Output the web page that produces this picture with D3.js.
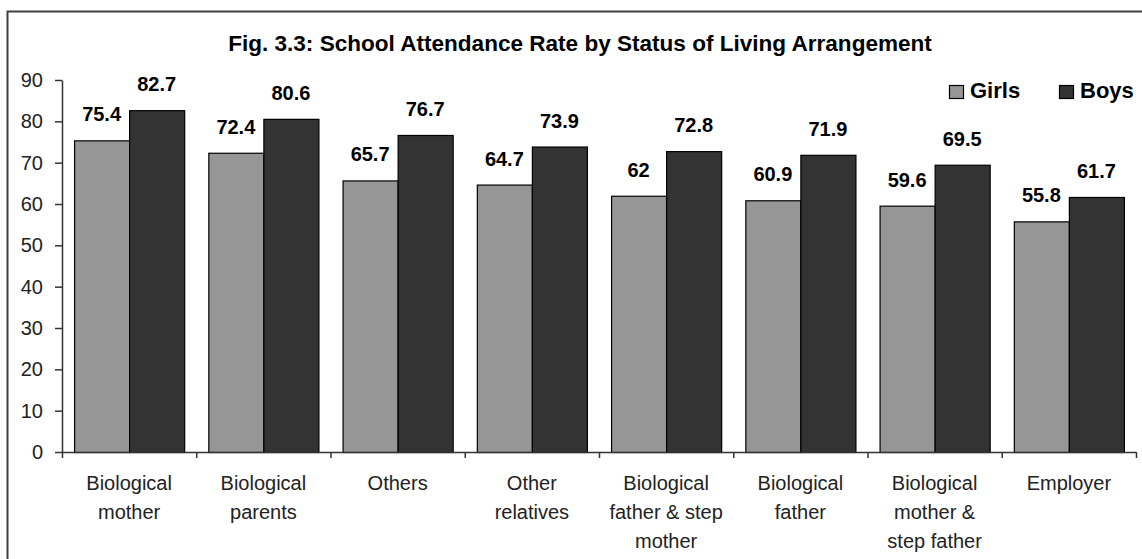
<!DOCTYPE html>
<html>
<head>
<meta charset="utf-8">
<script src="https://cdn.jsdelivr.net/npm/d3@7"></script>
<style>
  html, body { margin: 0; padding: 0; background: #fff; }
  svg { display: block; font-family: "Liberation Sans", Arial, sans-serif; }
</style>
</head>
<body>
<svg id="chart" width="1142" height="559"></svg>
<script>
// ---- data ----
const title = "Fig. 3.3: School Attendance Rate by Status of Living Arrangement";
const categories = [
  "Biological\nmother",
  "Biological\nparents",
  "Others",
  "Other\nrelatives",
  "Biological\nfather & step\nmother",
  "Biological\nfather",
  "Biological\nmother &\nstep father",
  "Employer"
];
const seriesNames = ["Girls", "Boys"];
const girls = [75.4, 72.4, 65.7, 64.7, 62, 60.9, 59.6, 55.8];
const boys  = [82.7, 80.6, 76.7, 73.9, 72.8, 71.9, 69.5, 61.7];
const yTicks = [0, 10, 20, 30, 40, 50, 60, 70, 80, 90];
const seriesColors = ["#969696", "#333333"];

// ---- layout ----
const svg = d3.select("#chart");
const plot = { left: 62, right: 1136, top: 80, bottom: 452 };

// outer frame (extends past right/bottom edges like the reference)
svg.append("rect")
  .attr("x", 7.5).attr("y", 11.5)
  .attr("width", 1160).attr("height", 600)
  .attr("fill", "none").attr("stroke", "#404040").attr("stroke-width", 2);

const x = d3.scaleBand().domain(d3.range(categories.length))
  .range([plot.left, plot.right]).paddingInner(0).paddingOuter(0);
const xEdge = d3.scaleLinear().domain([0, categories.length]).range([plot.left, plot.right]);
const xSub = d3.scaleBand().domain(seriesNames).range([0, x.bandwidth()]).paddingOuter(0.2195).paddingInner(0);
const y = d3.scaleLinear().domain([0, 90]).range([plot.bottom, plot.top]);

// title
const t = svg.append("text")
  .attr("x", 580).attr("y", 51)
  .attr("text-anchor", "middle")
  .attr("font-weight", "bold")
  .attr("font-size", 20)
  .attr("fill", "#000")
  .text(title);
const tw = t.node().getComputedTextLength();
t.attr("font-size", 20 * 704 / tw);

// bars
const rows = categories.map((c, i) => ({ i, vals: [girls[i], boys[i]] }));
const g = svg.append("g");
const grp = g.selectAll("g.cat").data(rows).join("g")
  .attr("transform", d => `translate(${x(d.i)},0)`);
grp.selectAll("rect").data(d => d.vals.map((v, k) => ({ k, v }))).join("rect")
  .attr("x", d => xSub(seriesNames[d.k]) + 0.5)
  .attr("y", d => y(d.v) + 0.5)
  .attr("width", xSub.bandwidth())
  .attr("height", d => y(0) - y(d.v))
  .attr("fill", d => seriesColors[d.k])
  .attr("stroke", "#000").attr("stroke-width", 1.2);

// value labels
grp.selectAll("text.val").data(d => d.vals.map((v, k) => ({ k, v }))).join("text")
  .attr("class", "val")
  .attr("x", d => xSub(seriesNames[d.k]) + xSub.bandwidth() / 2)
  .attr("y", d => y(d.v) - 19)
  .attr("text-anchor", "middle")
  .attr("font-weight", "bold")
  .attr("font-size", 20)
  .attr("fill", "#000")
  .text(d => d.v);

// y axis
const yAxis = svg.append("g")
  .attr("transform", `translate(${plot.left},0)`)
  .call(d3.axisLeft(y).tickValues(yTicks).tickSize(7).tickSizeOuter(0).tickPadding(12));
yAxis.select(".domain").attr("stroke", "#333").attr("stroke-width", 1.5);
yAxis.selectAll(".tick line").attr("stroke", "#333").attr("stroke-width", 1.5);
yAxis.selectAll(".tick text").attr("font-size", 20).attr("fill", "#222")
  .attr("font-family", "Liberation Sans, Arial, sans-serif");

// x axis (ticks at category boundaries)
const xAxis = svg.append("g")
  .attr("transform", `translate(0,${plot.bottom})`)
  .call(d3.axisBottom(xEdge).tickValues(d3.range(categories.length + 1)).tickFormat("").tickSize(6).tickSizeOuter(0));
xAxis.select(".domain").attr("stroke", "#333").attr("stroke-width", 1.5);
xAxis.selectAll(".tick line").attr("stroke", "#333").attr("stroke-width", 1.5);

// category labels
const lab = svg.append("g").selectAll("text").data(categories).join("text")
  .attr("x", (d, i) => x(i) + x.bandwidth() / 2)
  .attr("y", 490)
  .attr("text-anchor", "middle")
  .attr("font-size", 20)
  .attr("fill", "#222");
lab.each(function(d) {
  const el = d3.select(this);
  d.split("\n").forEach((line, j) => {
    el.append("tspan").attr("x", el.attr("x")).attr("dy", j === 0 ? 0 : 29).text(line);
  });
});

// legend
const legX = [949, 1059];
const leg = svg.append("g").selectAll("g").data(seriesNames).join("g")
  .attr("transform", (d, i) => `translate(${legX[i]},85)`);
leg.append("rect").attr("x", 0.5).attr("y", 0.5).attr("width", 14).attr("height", 13)
  .attr("fill", (d, i) => seriesColors[i]).attr("stroke", "#000").attr("stroke-width", 1.2);
leg.append("text").attr("x", 21).attr("y", 13)
  .attr("font-weight", "bold").attr("font-size", 22).attr("fill", "#000")
  .text(d => d);
</script>
</body>
</html>
